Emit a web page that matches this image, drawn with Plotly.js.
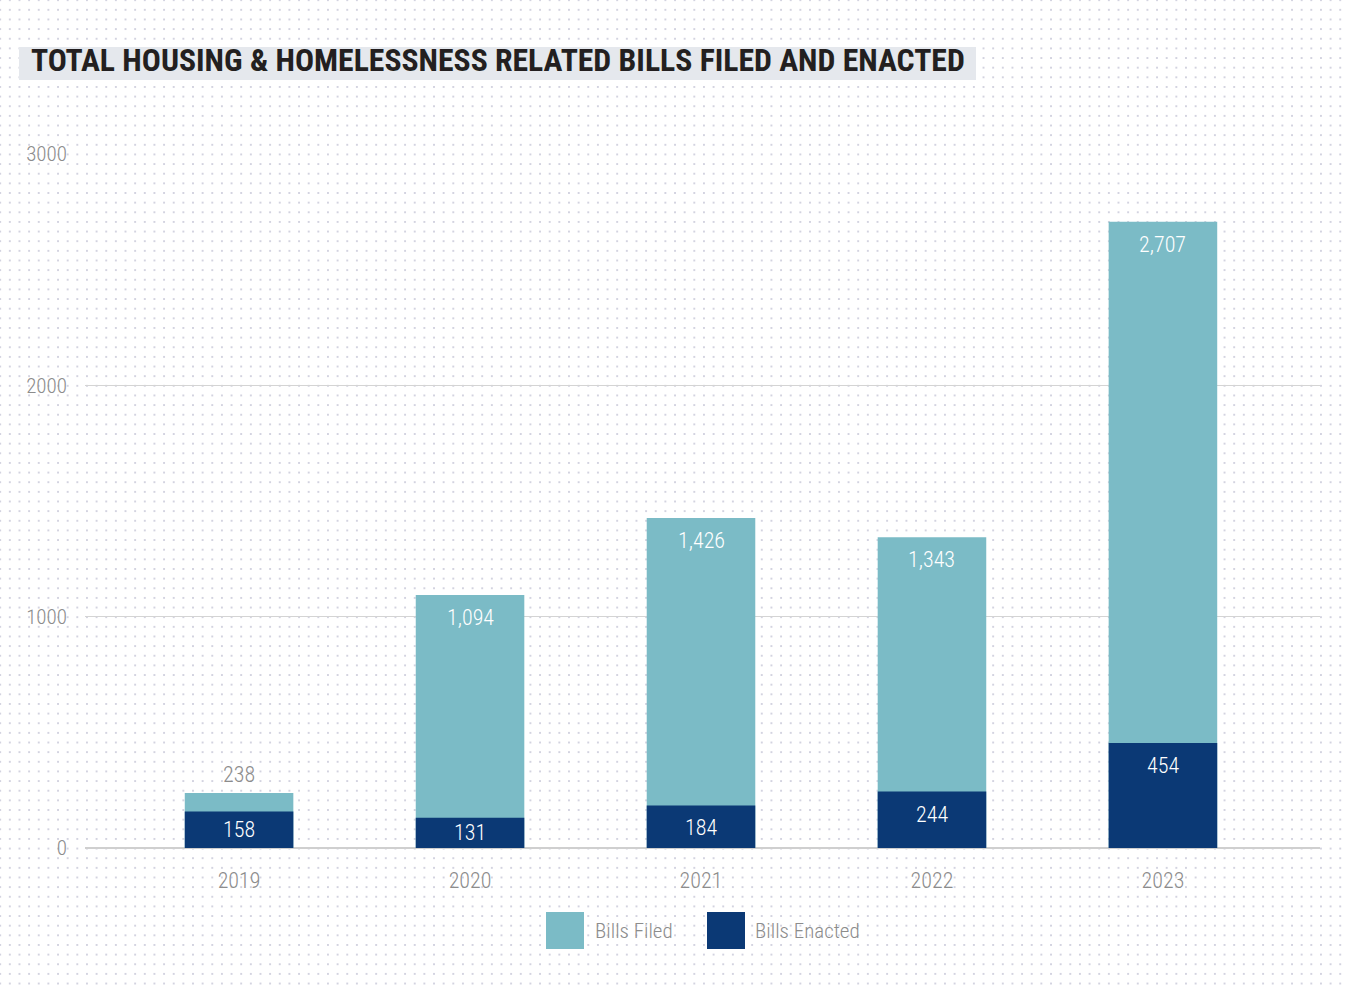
<!DOCTYPE html>
<html>
<head>
<meta charset="utf-8">
<script src="https://cdn.plot.ly/plotly-3.0.1.min.js"></script>
<style>
  html, body { margin: 0; padding: 0; background: #ffffff; }
  #chart {
    width: 1345px; height: 989px;
    background-color: #ffffff;
    background-image: radial-gradient(circle, #d3d3e0 0.9px, rgba(255,255,255,0) 1.4px);
    background-size: 9.65px 9.65px;
    background-position: 5px 5px;
  }
</style>
</head>
<body>
<div id="chart"></div>
<script>
const years = ['2019', '2020', '2021', '2022', '2023'];
const billsFiled = [238, 1094, 1426, 1343, 2707];
const billsEnacted = [158, 131, 184, 244, 454];
const yTicks = [0, 1000, 2000, 3000];
const titleText = 'TOTAL HOUSING &amp; HOMELESSNESS RELATED BILLS FILED AND ENACTED';

const COND = '"Roboto Condensed", "Liberation Sans Narrow", "Arial Narrow", sans-serif';
const colFiled = '#7bbbc6';
const colEnacted = '#0b3975';
const grayText = '#8c8c8c';

const W = 1345, H = 989;
const M = {l: 85, r: 25, t: 154, b: 141};
const PW = W - M.l - M.r, PH = H - M.t - M.b;
const px = x => (x - M.l) / PW;
const py = y => (H - M.b - y) / PH;

const fmt = v => v.toLocaleString('en-US');

const traces = [
  {
    type: 'bar', name: 'Bills Filed', x: years, y: billsFiled,
    marker: {color: colFiled}, width: 0.47, hoverinfo: 'x+y', showlegend: false
  },
  {
    type: 'bar', name: 'Bills Enacted', x: years, y: billsEnacted,
    marker: {color: colEnacted}, width: 0.47, hoverinfo: 'x+y', showlegend: false
  }
];

const annotations = [];
billsFiled.forEach((v, i) => {
  const outside = v < 400;
  annotations.push({
    x: i, y: v, xref: 'x', yref: 'y',
    text: fmt(v), showarrow: false,
    yanchor: outside ? 'bottom' : 'top',
    yshift: outside ? 4 : -8,
    font: {family: COND, size: 22, weight: 300, color: outside ? grayText : '#ffffff'}
  });
});
billsEnacted.forEach((v, i) => {
  const small = v < 180;
  annotations.push({
    x: i, y: small ? v / 2 : v, xref: 'x', yref: 'y',
    text: fmt(v), showarrow: false,
    yanchor: small ? 'middle' : 'top',
    yshift: small ? 0 : -8,
    font: {family: COND, size: 22, weight: 300, color: '#ffffff'}
  });
});
annotations.push({
  xref: 'paper', yref: 'paper', x: px(29), y: py(61),
  xanchor: 'left', yanchor: 'middle', showarrow: false,
  text: '<b>' + titleText + '</b>',
  font: {family: COND, size: 31.7, color: '#231f20'}
});
annotations.push({
  xref: 'paper', yref: 'paper', x: px(593), y: py(931),
  xanchor: 'left', yanchor: 'middle', showarrow: false,
  text: 'Bills Filed', font: {family: COND, size: 21, weight: 300, color: grayText}
});
annotations.push({
  xref: 'paper', yref: 'paper', x: px(753), y: py(931),
  xanchor: 'left', yanchor: 'middle', showarrow: false,
  text: 'Bills Enacted', font: {family: COND, size: 21, weight: 300, color: grayText}
});

const shapes = [
  {type: 'rect', xref: 'paper', yref: 'paper', layer: 'below',
   x0: px(19), x1: px(976), y0: py(80), y1: py(47),
   fillcolor: '#e5e8ed', line: {width: 0}},
  {type: 'rect', xref: 'paper', yref: 'paper',
   x0: px(546), x1: px(584), y0: py(949), y1: py(912),
   fillcolor: colFiled, line: {width: 0}},
  {type: 'rect', xref: 'paper', yref: 'paper',
   x0: px(707), x1: px(745), y0: py(949), y1: py(912),
   fillcolor: colEnacted, line: {width: 0}}
];

const layout = {
  width: W, height: H,
  margin: M,
  paper_bgcolor: 'rgba(0,0,0,0)',
  plot_bgcolor: 'rgba(0,0,0,0)',
  barmode: 'overlay',
  showlegend: false,
  font: {family: COND, color: grayText},
  xaxis: {
    type: 'category', range: [-0.667, 4.68],
    showgrid: false, zeroline: false, showline: false,
    ticks: '', ticklabelstandoff: 17,
    tickfont: {family: COND, size: 22, weight: 300, color: grayText},
    fixedrange: true
  },
  yaxis: {
    range: [0, 3000], tickvals: yTicks, ticktext: yTicks.map(String),
    showgrid: true, gridcolor: '#d4d4d4', gridwidth: 1,
    zeroline: true, zerolinecolor: '#cfcfcf', zerolinewidth: 2,
    showline: false, ticks: '', ticklabelstandoff: 17,
    tickfont: {family: COND, size: 21, weight: 300, color: grayText},
    fixedrange: true
  },
  annotations: annotations,
  shapes: shapes
};

Plotly.newPlot('chart', traces, layout, {displayModeBar: false, staticPlot: true});
</script>
</body>
</html>
